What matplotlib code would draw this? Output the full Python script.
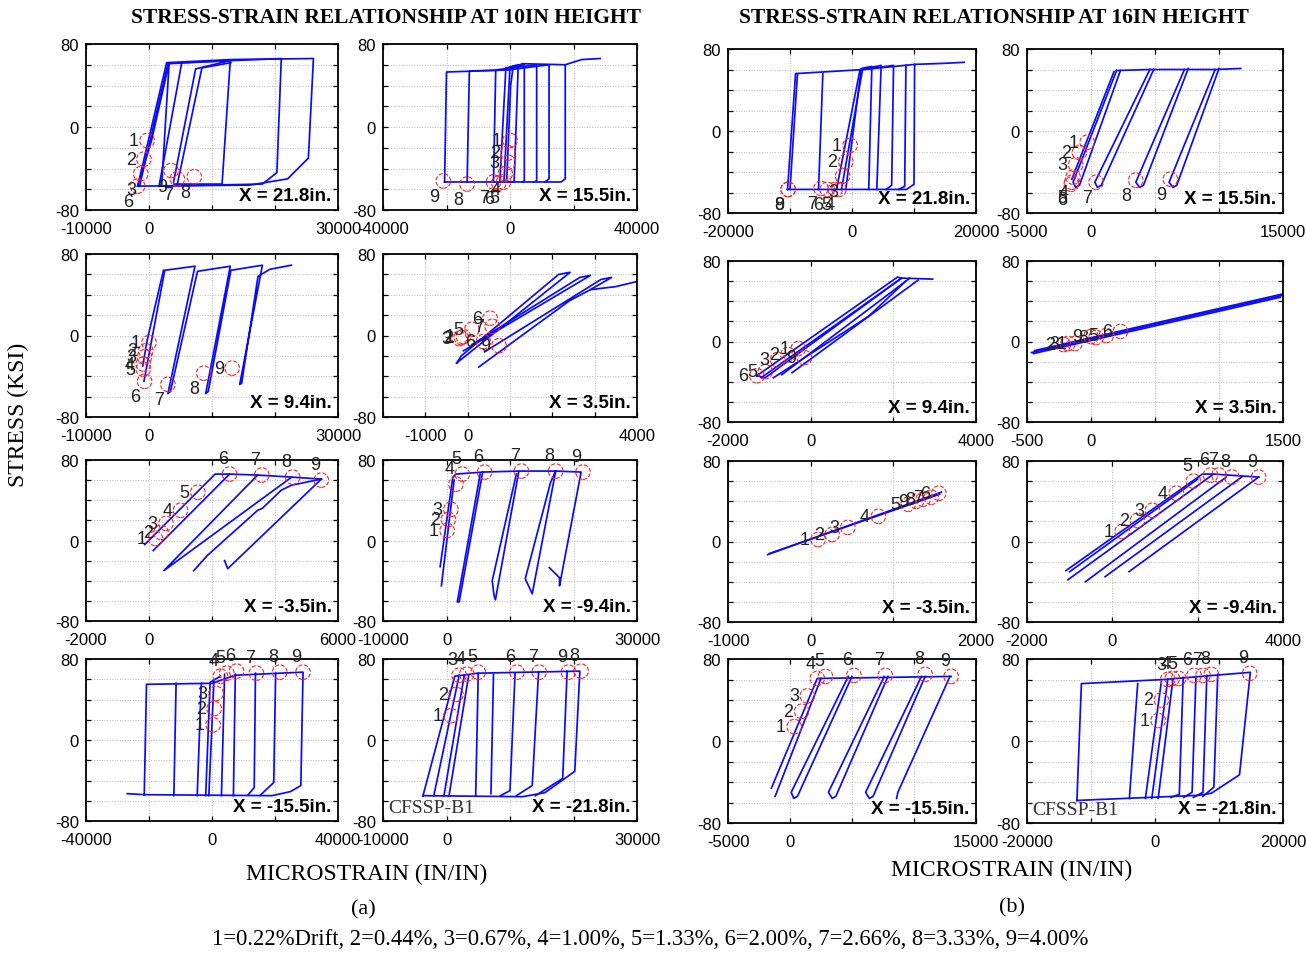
import numpy as np
import matplotlib.pyplot as plt

# ---------------- data (strain in microstrain, stress in ksi) ----------------
panel_tags = ['X = 21.8in.', 'X = 15.5in.', 'X = 9.4in.', 'X = 3.5in.',
              'X = -3.5in.', 'X = -9.4in.', 'X = -15.5in.', 'X = -21.8in.']

# x axis range, grid step and labelled ticks, 10in height (a) then 16in height (b)
a_xlim = [(-10000, 30000), (-40000, 40000), (-10000, 30000), (-2000, 4000),
          (-2000, 6000), (-10000, 30000), (-40000, 40000), (-10000, 30000)]
a_xstep = [10000, 20000, 10000, 1000, 2000, 10000, 20000, 10000]
a_xlab = [[-10000, 0, 30000], [-40000, 0, 40000], [-10000, 0, 30000], [-1000, 0, 4000],
          [-2000, 0, 6000], [-10000, 0, 30000], [-40000, 0, 40000], [-10000, 0, 30000]]
b_xlim = [(-20000, 20000), (-5000, 15000), (-2000, 4000), (-500, 1500),
          (-1000, 2000), (-2000, 4000), (-5000, 15000), (-20000, 20000)]
b_xstep = [10000, 5000, 2000, 500, 1000, 2000, 5000, 10000]
b_xlab = [[-20000, 0, 20000], [-5000, 0, 15000], [-2000, 0, 4000], [-500, 0, 1500],
          [-1000, 0, 2000], [-2000, 0, 4000], [-5000, 0, 15000], [-20000, 0, 20000]]

# ---- 10in height ----
a1_lines = [
    [(-1800, -57), (2800, 62), (13000, 65), (26100, 66), (25300, -30), (22000, -50), (16000, -56), (-1800, -57)],
    [(-1500, -57), (3000, 61), (13000, 64)],
    [(1600, -57), (5200, 62), (21000, 66), (20300, -44), (18000, -55), (1600, -57)],
    [(3900, -53), (7400, 56), (12900, 64), (11600, -55), (3900, -55)],
    [(4500, -55), (8400, 57), (13000, 62)],
    [(-1800, -57), (400, -13), (3200, 62), (2000, -57)],
]
a1_marks = [(-300, -13, 1), (-800, -31, 2), (-1300, -45, 3), (-1800, -57, 6),
            (3500, -42, 9), (4500, -50, 7), (7200, -48, 8)]

a2_lines = [
    [(-20600, -53), (-20000, 53), (-600, 55), (3900, 61), (17400, 60), (17400, -50), (16100, -53), (-20600, -53)],
    [(-13500, -53), (-12800, 54), (-600, 55), (12300, 60), (12300, -50), (11000, -53)],
    [(-5200, -53), (-4500, 55), (8400, 60), (8400, -52), (7500, -53)],
    [(-3200, -53), (-1300, 57), (4500, 60), (4500, -52), (3800, -53)],
    [(-1900, -53), (0, 58), (2600, 60), (1300, -53), (-1900, -53)],
    [(-1000, -50), (200, 40), (1000, 58)],
    [(17400, 60), (22600, 65), (28400, 66)],
]
a2_marks = [(0, -13, 1), (-600, -25, 2), (-600, -34, 3), (-1500, -45, 4), (-2000, -53, 5),
            (-3500, -54, 6), (-5200, -53, 7), (-13500, -55, 8), (-21000, -52, 9)]

a3_lines = [
    [(-800, -45), (2500, 64), (7300, 68), (3000, -57), (3400, -55), (7700, 63), (12900, 68),
     (9000, -57), (9400, -55), (13000, 64), (18000, 69), (14400, -48), (14700, -47),
     (17300, 58), (19200, 65), (22600, 69)],
    [(-1000, -30), (-300, -5), (2300, 64)],
]
a3_marks = [(0, -7, 1), (-500, -15, 2), (-700, -21, 3), (-900, -28, 4), (-900, -33, 5),
            (-700, -45, 6), (3000, -48, 7), (8700, -37, 8), (13200, -32, 9)]

a4_lines = [
    [(-260, -27), (2420, 62), (2150, 60), (-150, -20), (-260, -27)],
    [(-100, -15), (2900, 59), (2650, 57), (100, -9)],
    [(260, -31), (2400, 34), (2900, 45), (3400, 57), (3150, 55), (400, -16)],
    [(2900, 45), (3500, 48), (4100, 54)],
]
a4_marks = [(530, 17, 6), (580, 9, 7), (100, 6, 5), (-100, -1, 1), (-150, -2, 2),
            (-200, -3, 3), (370, -6, 6), (740, -10, 9)]

a5_lines = [
    [(-135, -4), (2100, 66), (2560, 66), (3450, 65), (4530, 63), (5470, 61)],
    [(135, -10), (2560, 66)],
    [(3450, 65), (470, -30), (4530, 63)],
    [(1420, -30), (1850, -15), (3450, 30), (3600, 32), (4200, 50), (4530, 55), (5470, 61)],
    [(5470, 61), (2500, -28), (2400, -20)],
]
a5_marks = [(200, 2, 1), (380, 8, 2), (540, 17, 3), (1000, 30, 4), (1550, 48, 5),
            (2560, 66, 6), (3580, 65, 7), (4560, 63, 8), (5470, 60, 9)]

a6_lines = [
    [(-1000, -26), (1000, 63), (1500, 66), (5700, 68)],
    [(-800, -45), (1200, 60)],
    [(5700, 68), (2000, -61), (1700, -61), (5300, 66)],
    [(5700, 68), (11400, 69), (7700, -59), (7500, -55), (7200, -40), (11000, 66)],
    [(11400, 69), (17200, 69), (13500, -53), (12400, -38), (16400, 58), (17200, 69)],
    [(17200, 69), (21200, 68), (17800, -45), (17800, -37), (16200, -27)],
]
a6_marks = [(100, 10, 1), (300, 21, 2), (700, 31, 3), (1500, 56, 4), (2500, 66, 5),
            (6000, 68, 6), (11800, 69, 7), (17200, 69, 8), (21500, 68, 9)]

a7_lines = [
    [(-26900, -53), (-21500, -54), (-20800, 55), (0, 56), (7400, 64), (28900, 67),
     (28200, -45), (24900, -51), (19000, -55), (-21500, -54)],
    [(-12100, -55), (-11400, 56)],
    [(-4700, -55), (-3400, 56)],
    [(-2000, -55), (-600, 57), (2700, 63)],
    [(-1000, -55), (600, 58)],
    [(20200, 66), (19600, -42), (15500, -54)],
    [(13800, 66), (13400, -47), (11500, -54)],
    [(7400, 65), (6800, -55)],
    [(4000, 65), (3000, -55)],
]
a7_marks = [(400, 15, 1), (700, 31, 2), (1300, 46, 3), (2700, 63, 4), (4700, 66, 5),
            (7800, 68, 6), (14100, 66, 7), (21500, 67, 8), (28900, 67, 9)]

a8_lines = [
    [(-3700, -55), (1300, 63), (5000, 66), (21000, 68), (20200, -31), (15500, -52), (12000, -56), (-3700, -55)],
    [(-2000, -55), (2000, 64)],
    [(-400, -55), (2800, 64)],
    [(400, -55), (3500, 64)],
    [(19000, 68), (18300, -38), (14000, -55)],
    [(14500, 67), (13500, -45), (11000, -55)],
    [(10800, 66), (10000, -50), (8500, -55)],
    [(7400, 65), (7000, -53)],
    [(5000, 66), (4600, -55)],
]
a8_marks = [(700, 24, 1), (1500, 45, 2), (2000, 64, 3), (3200, 65, 4), (5000, 67, 5),
            (11100, 67, 6), (14600, 67, 7), (21200, 68, 8), (19200, 67, 9)]

# ---- 16in height ----
b1_lines = [
    [(-10400, -57), (-9100, 56), (2000, 60), (10100, 65), (10000, -52), (8800, -57), (-10400, -57)],
    [(-10000, -57), (-8800, 55)],
    [(-5400, -57), (-4700, 56)],
    [(-1700, -57), (1700, 60), (6700, 64), (6400, -53), (5500, -57)],
    [(-2500, -57), (1300, 60), (4700, 64), (4000, -57)],
    [(-1000, -57), (1500, 61), (3200, 63), (2700, -57)],
    [(8700, 64), (8500, -54), (7500, -57)],
    [(10100, 65), (14800, 66), (18100, 67)],
]
b1_marks = [(-300, -14, 1), (-1000, -30, 2), (-1500, -44, 3), (-2100, -57, 4), (-2700, -57, 5),
            (-4000, -57, 6), (-5000, -56, 7), (-10300, -57, 8), (-10300, -57, 9)]

b2_lines = [
    [(1800, 58), (-1500, -47)],
    [(2000, 59), (-1400, -50), (-1200, -55), (-900, -53), (2300, 59)],
    [(4600, 60), (300, -50), (500, -55), (800, -53), (4900, 60)],
    [(7300, 60), (3500, -50), (3800, -55), (4100, -53), (7600, 61)],
    [(9700, 60), (6100, -50), (6400, -55), (6700, -53), (10000, 61)],
    [(2000, 59), (4600, 60), (9700, 60), (11700, 61)],
]
b2_marks = [(-300, -11, 1), (-900, -21, 2), (-1200, -33, 3), (-1400, -45, 4), (-1500, -50, 5),
            (-1550, -52, 6), (400, -50, 7), (3500, -48, 8), (6200, -47, 9)]

b3_lines = [
    [(-1300, -34), (2100, 64), (2200, 63), (-1100, -36), (-1300, -34)],
    [(-1200, -36), (2200, 63), (2950, 62)],
    [(-900, -36), (1400, 25), (2300, 60)],
    [(-450, -31), (2600, 61)],
    [(-700, -33), (2400, 63)],
]
b3_marks = [(-300, -7, 1), (-550, -13, 2), (-800, -18, 3), (-1100, -30, 5),
            (-1300, -34, 6), (-150, -16, 9)]

b4_lines = [
    [(-465, -11), (1500, 46)],
    [(-450, -12), (1480, 44)],
    [(-440, -9), (1490, 47)],
]
b4_marks = [(-215, -3, 2), (-180, -2, 3), (-125, -2, 1), (0, 5, 9), (40, 4, 8),
            (120, 6, 5), (230, 10, 6)]

b5_lines = [
    [(-520, -13), (1580, 49)],
    [(-500, -12), (1560, 47)],
]
b5_marks = [(90, 2, 1), (260, 7, 2), (450, 14, 3), (820, 25, 4), (1180, 37, 5),
            (1280, 40, 9), (1360, 42, 8), (1460, 44, 7), (1550, 48, 6)]

b6_lines = [
    [(-1090, -29), (2110, 67), (2370, 67), (3430, 64)],
    [(-1040, -38), (2370, 67)],
    [(-630, -40), (2670, 64)],
    [(-170, -35), (3030, 64)],
    [(390, -30), (3430, 64)],
    [(-1000, -30), (2000, 62)],
]
b6_marks = [(230, 10, 1), (590, 21, 2), (940, 31, 3), (1500, 48, 4), (1900, 60, 5),
            (2300, 66, 6), (2500, 66, 7), (2800, 64, 8), (3430, 64, 9)]

b7_lines = [
    [(-1500, -46), (2200, 61), (13000, 63)],
    [(-1200, -54), (2500, 61)],
    [(4700, 63), (100, -50), (300, -56), (600, -54), (5000, 63)],
    [(7600, 63), (3100, -50), (3400, -56), (3700, -54), (7900, 63)],
    [(10600, 63), (6100, -50), (6400, -56), (6700, -54), (10900, 63)],
    [(12900, 63), (8700, -50), (8600, -56)],
]
b7_marks = [(340, 14, 1), (940, 29, 2), (1400, 44, 3), (2200, 61, 4), (2860, 63, 5),
            (5150, 64, 6), (7680, 64, 7), (10900, 65, 8), (13000, 63, 9)]

b8_lines = [
    [(-12200, -58), (-11500, 56), (1400, 60), (14900, 67), (13200, -33), (8800, -51), (6800, -53), (-12200, -58)],
    [(-4000, -56), (-2700, 56)],
    [(-1500, -56), (1000, 58)],
    [(-500, -56), (2000, 60)],
    [(500, -56), (2800, 60)],
    [(4400, 62), (3800, -52), (2500, -55)],
    [(6400, 63), (5800, -50), (4500, -55)],
    [(8100, 64), (7500, -50), (6000, -55)],
    [(9800, 65), (9200, -45), (7500, -54)],
]
b8_marks = [(500, 20, 1), (1000, 40, 2), (2000, 60, 3), (2700, 61, 4), (3700, 61, 5),
            (6100, 64, 6), (7500, 64, 7), (8800, 65, 8), (14800, 66, 9)]

caption = ('1=0.22%Drift, 2=0.44%, 3=0.67%, 4=1.00%, 5=1.33%, '
           '6=2.00%, 7=2.66%, 8=3.33%, 9=4.00%')

# ---------------- layout (pixels) ----------------
W, H = 1306, 954
a_cols = [(86, 338), (383, 637)]
b_cols = [(728, 976), (1027, 1283)]
a_rows = [(45, 211), (255, 418), (461, 622), (660, 822)]
b_rows = [(50, 214), (262, 423), (462, 623), (660, 824)]

SANS = ['Liberation Sans', 'DejaVu Sans']
SERIF = ['Liberation Serif', 'DejaVu Serif']

fig = plt.figure(figsize=(W / 100, H / 100), dpi=100)


def draw_panel(box, lines, marks, xlim, xstep, xlab, tag, cfssp=False):
    x0, x1, y0, y1 = box
    ax = fig.add_axes([x0 / W, 1 - y1 / H, (x1 - x0) / W, (y1 - y0) / H])
    for pl in lines:
        xs, ys = zip(*pl)
        ax.plot(xs, ys, color='#0a0aff', lw=1.25, zorder=2)
    mx = [m[0] for m in marks]
    my = [m[1] for m in marks]
    ax.scatter(mx, my, s=110, facecolors='none', edgecolors='#ff2020',
               linestyles='--', linewidths=0.8, zorder=3)
    for x, y, n in marks:
        if y < -35:
            off, ha, va = (-3, -5), 'right', 'top'
        elif y > 55:
            off, ha, va = (-1, 5), 'right', 'bottom'
        else:
            off, ha, va = (-6, 0), 'right', 'center'
        ax.annotate(str(n), (x, y), xytext=off, textcoords='offset points',
                    ha=ha, va=va, fontsize=13, family=SANS, color='#222222', zorder=4)
    ax.set_xlim(*xlim)
    ax.set_ylim(-80, 80)
    xt = np.arange(xlim[0], xlim[1] + 1, xstep)
    ax.set_xticks(xt)
    ax.set_xticklabels([str(int(v)) if v in xlab else '' for v in xt])
    yt = np.arange(-80, 81, 20)
    ax.set_yticks(yt)
    ax.set_yticklabels([str(v) if v in (-80, 0, 80) else '' for v in yt])
    ax.tick_params(direction='in', length=3.5, width=0.9, top=True, right=True,
                   labelsize=12, pad=8)
    ax.tick_params(axis='y', pad=5)
    for lab in ax.get_xticklabels() + ax.get_yticklabels():
        lab.set_family(SANS)
    ax.grid(True, linestyle=':', color='#b8b8b8', lw=0.7)
    for s in ax.spines.values():
        s.set_linewidth(1.3)
    ax.text(0.975, 0.035, tag, transform=ax.transAxes, ha='right', va='bottom',
            fontsize=13.5, fontweight='bold', family=SANS, zorder=5)
    if cfssp:
        ax.text(0.02, 0.03, 'CFSSP-B1', transform=ax.transAxes, ha='left', va='bottom',
                fontsize=14, family=SERIF, color='#333333', zorder=5)
    return ax


a_data = [(a1_lines, a1_marks), (a2_lines, a2_marks), (a3_lines, a3_marks), (a4_lines, a4_marks),
          (a5_lines, a5_marks), (a6_lines, a6_marks), (a7_lines, a7_marks), (a8_lines, a8_marks)]
b_data = [(b1_lines, b1_marks), (b2_lines, b2_marks), (b3_lines, b3_marks), (b4_lines, b4_marks),
          (b5_lines, b5_marks), (b6_lines, b6_marks), (b7_lines, b7_marks), (b8_lines, b8_marks)]

for i in range(8):
    r, c = i // 2, i % 2
    ln, mk = a_data[i]
    draw_panel((a_cols[c][0], a_cols[c][1], a_rows[r][0], a_rows[r][1]), ln, mk,
               a_xlim[i], a_xstep[i], a_xlab[i], panel_tags[i], cfssp=(i == 7))
    ln, mk = b_data[i]
    draw_panel((b_cols[c][0], b_cols[c][1], b_rows[r][0], b_rows[r][1]), ln, mk,
               b_xlim[i], b_xstep[i], b_xlab[i], panel_tags[i], cfssp=(i == 7))

# figure texts
fig.text(386 / W, 1 - 18 / H, 'STRESS-STRAIN RELATIONSHIP AT 10IN HEIGHT', ha='center', va='center',
         fontsize=15.5, fontweight='bold', family=SERIF)
fig.text(994 / W, 1 - 18 / H, 'STRESS-STRAIN RELATIONSHIP AT 16IN HEIGHT', ha='center', va='center',
         fontsize=15.5, fontweight='bold', family=SERIF)
fig.text(18 / W, 1 - 415 / H, 'STRESS (KSI)', rotation=90, ha='center', va='center',
         fontsize=17, family=SERIF)
fig.text(367 / W, 1 - 874 / H, 'MICROSTRAIN (IN/IN)', ha='center', va='center',
         fontsize=17, family=SERIF)
fig.text(1012 / W, 1 - 870 / H, 'MICROSTRAIN (IN/IN)', ha='center', va='center',
         fontsize=17, family=SERIF)
fig.text(363 / W, 1 - 910 / H, '(a)', ha='center', va='center', fontsize=16, family=SERIF)
fig.text(1012 / W, 1 - 908 / H, '(b)', ha='center', va='center', fontsize=16, family=SERIF)
fig.text(650 / W, 1 - 940 / H, caption, ha='center', va='center', fontsize=16.3, family=SERIF)

fig.savefig('out.png', dpi=100)
